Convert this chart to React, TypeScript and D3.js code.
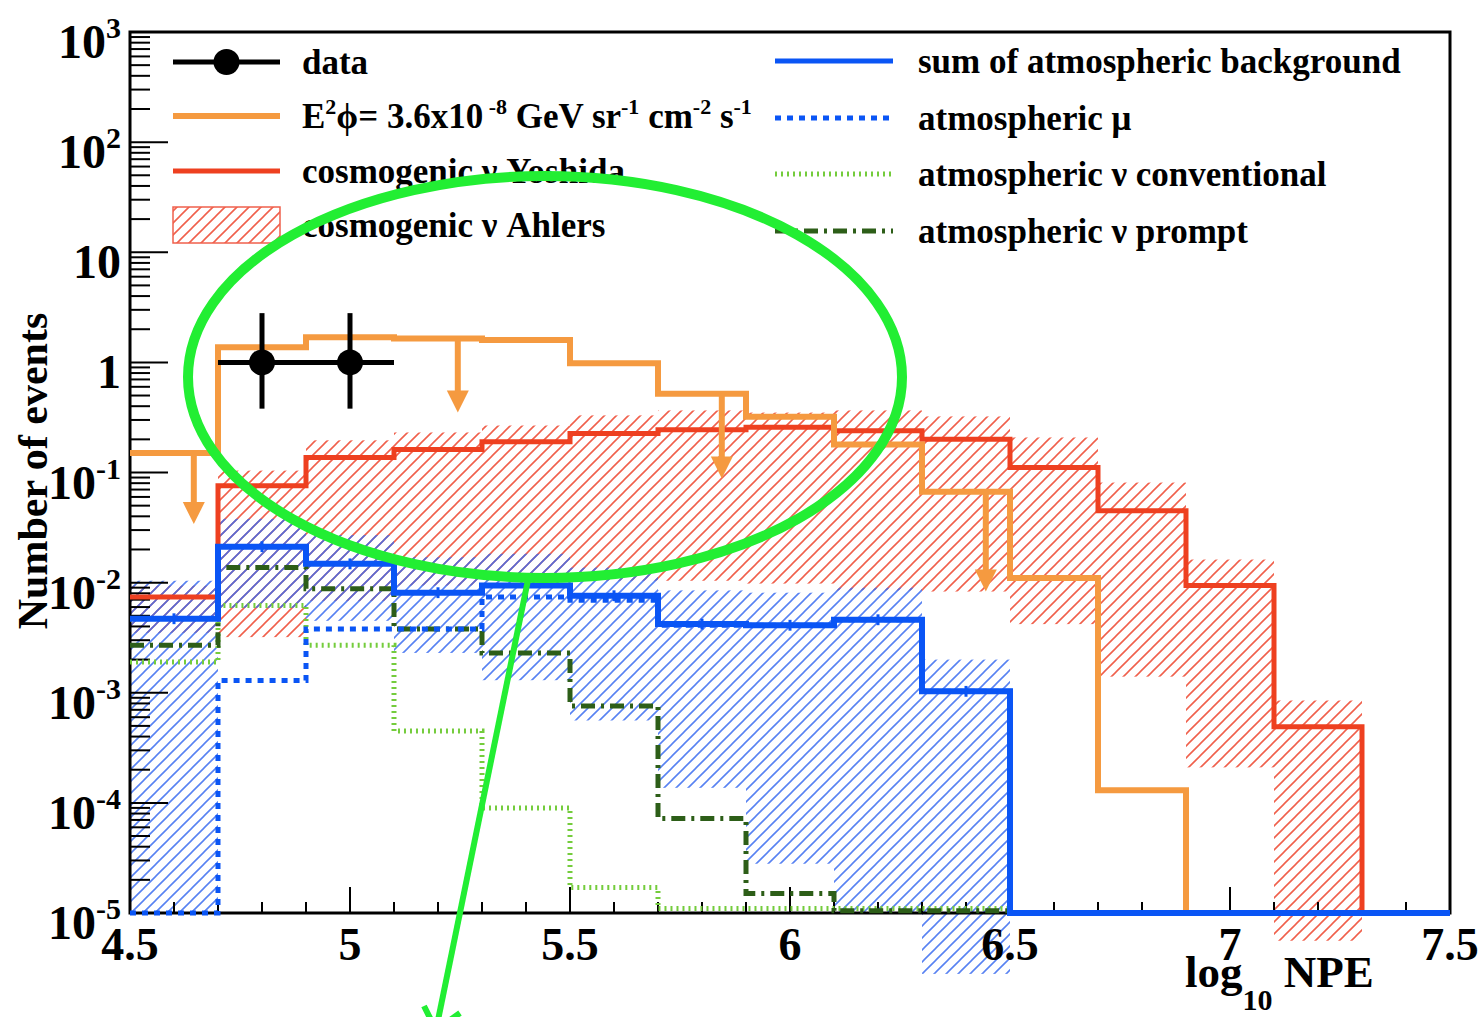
import React from 'react';
import * as d3 from 'd3';

// bin edges in log10 NPE
const edges = [4.5, 4.7, 4.9, 5.1, 5.3, 5.5, 5.7, 5.9, 6.1, 6.3, 6.5, 6.7, 6.9, 7.1, 7.3, 7.5];

// E^2 phi = 3.6e-8 limit (orange)
const limitVals = [0.15, 1.37, 1.69, 1.65, 1.6, 0.98, 0.52, 0.32, 0.18, 0.067, 0.011, 1.3e-4, 0, 0, 0];
const arrowX = [4.645, 5.245, 5.845, 6.445];
const arrowTip = [0.034, 0.35, 0.088, 0.0083];

// cosmogenic nu Yoshida (red line) and Ahlers band (red hatch)
const yoshida = [0.0074, 0.076, 0.137, 0.162, 0.19, 0.226, 0.245, 0.257, 0.24, 0.2, 0.111, 0.045, 0.0094, 4.9e-4, 0];
const ahlersHi = [0.0094, 0.104, 0.196, 0.231, 0.267, 0.33, 0.366, 0.35, 0.366, 0.323, 0.208, 0.081, 0.0162, 8.5e-4, 0];
const ahlersLo = [0.0035, 0.0032, 0.0068, 0.0094, 0.0104, 0.0104, 0.0104, 0.0098, 0.0085, 0.0083, 0.0042, 0.0014, 2.1e-4, 5.6e-6, 0];

// atmospheric background
const bgSum = [0.0047, 0.0212, 0.0148, 0.0081, 0.0094, 0.0076, 0.0042, 0.0041, 0.0046, 0.00103, 0, 0, 0, 0, 0];
const bgHi = [0.0104, 0.038, 0.027, 0.017, 0.0183, 0.0137, 0.0085, 0.0081, 0.009, 0.002, 0, 0, 0, 0, 0];
const bgLo = [1e-5, 0.0059, 0.0045, 0.0023, 0.0013, 5.6e-4, 1.37e-4, 2.8e-5, 1e-5, 2.8e-6, 0, 0, 0, 0, 0];
const atmMu = [0, 0.00129, 0.0038, 0.0038, 0.0074, 0.0069, 0.0041, 0.0041, 0.0046, 0.00103, 0, 0, 0, 0, 0];
const nuConv = [0.0019, 0.0062, 0.0027, 4.5e-4, 9.0e-5, 1.7e-5, 1.1e-5, 1.1e-5, 1.1e-5, 1.1e-5, 0, 0, 0, 0, 0];
const nuPrompt = [0.0027, 0.0137, 0.0088, 0.0038, 0.0023, 7.6e-4, 7.2e-5, 1.5e-5, 1.05e-5, 1.05e-5, 0, 0, 0, 0, 0];

// observed events
const dataX = [4.8, 5.0];
const dataY = [1, 1];
const dataYHi = [2.8, 2.8];
const dataYLo = [0.38, 0.38];
const dataXErr = 0.1;

const xTickLabels = ['4.5', '5', '5.5', '6', '6.5', '7', '7.5'];
const yDecades = [-5, -4, -3, -2, -1, 0, 1, 2, 3];

const FONT = "'Liberation Serif', 'Times New Roman', serif";
const ORANGE = '#f59a40';
const RED = '#ee4020';
const BLUE = '#0a55f5';
const LGREEN = '#74cc3c';
const DGREEN = '#2d5e18';

export default function App() {
  const W = 1480, H = 1017;
  const yMin = 1e-5;
  const x = d3.scaleLinear().domain([4.5, 7.5]).range([130, 1450]);
  const y = d3.scaleLog().domain([yMin, 1e3]).range([913, 32]);

  const stepPath = (vals: number[]) => {
    let d = '';
    vals.forEach((v, i) => {
      const yy = y(Math.max(v, yMin));
      d += i === 0 ? `M${x(edges[0])},${yy}` : `V${yy}`;
      d += `H${x(edges[i + 1])}`;
    });
    return d;
  };

  const band = (hi: number[], lo: number[], fill: string) =>
    hi.map((h, i) => h > 0 ? (
      <rect key={i} x={x(edges[i])} width={x(edges[i + 1]) - x(edges[i])}
        y={y(h)} height={y(lo[i]) - y(h)} fill={fill} />
    ) : null);

  const binOf = (v: number) => edges.findIndex((e, i) => v >= e && v < edges[i + 1]);

  const majorY = yDecades.map(k => Math.pow(10, k));
  const minorY: number[] = [];
  yDecades.slice(0, -1).forEach(k => d3.range(2, 10).forEach(m => minorY.push(m * Math.pow(10, k))));
  const majorX = d3.range(0, 7).map(i => 4.5 + i * 0.5);
  const minorX = d3.range(0, 31).map(i => 4.5 + i * 0.1);

  const yLabel = (k: number) => {
    if (k === 0) return <tspan>1</tspan>;
    if (k === 1) return <tspan>10</tspan>;
    return [<tspan key="b">10</tspan>, <tspan key="e" fontSize={30} dy={-20}>{k < 0 ? '-' + (-k) : k}</tspan>];
  };

  const legL = 173, legLEnd = 280, legLText = 302;
  const legR = 775, legREnd = 893, legRText = 918;
  const rowL = [62, 116, 171, 225];
  const rowR = [61, 118, 174, 231];

  return (
    <svg width={W} height={H} style={{ position: 'absolute', left: 0, top: 0, background: '#fff' }}
      fontFamily={FONT} fontWeight="bold">
      <defs>
        <pattern id="hatchRed" patternUnits="userSpaceOnUse" width="12" height="12">
          <path d="M-3,3 l6,-6 M0,12 l12,-12 M9,15 l6,-6" stroke="#f0604c" strokeWidth="1.6" />
        </pattern>
        <pattern id="hatchBlue" patternUnits="userSpaceOnUse" width="12" height="12">
          <path d="M-3,3 l6,-6 M0,12 l12,-12 M9,15 l6,-6" stroke="#3a6cf0" strokeWidth="1.6" opacity="0.85" />
        </pattern>
        <clipPath id="frameClip">
          <rect x={128} y={32} width={1324} height={886} />
        </clipPath>
      </defs>
      <rect width={W} height={H} fill="#fff" />

      {/* uncertainty bands */}
      <g>{band(ahlersHi, ahlersLo, 'url(#hatchRed)')}</g>
      <g>{band(bgHi, bgLo, 'url(#hatchBlue)')}</g>

      {/* frame */}
      <rect x={130} y={32} width={1320} height={881} fill="none" stroke="#000" strokeWidth={3} />
      <g stroke="#000" strokeWidth={2}>
        {majorY.map((v, i) => <line key={'ym' + i} x1={130} x2={168} y1={y(v)} y2={y(v)} />)}
        {minorY.map((v, i) => <line key={'yn' + i} x1={130} x2={150} y1={y(v)} y2={y(v)} />)}
        {majorX.map((v, i) => <line key={'xm' + i} x1={x(v)} x2={x(v)} y1={913} y2={887} />)}
        {minorX.map((v, i) => <line key={'xn' + i} x1={x(v)} x2={x(v)} y1={913} y2={902} />)}
      </g>

      {/* background components */}
      <g fill="none" clipPath="url(#frameClip)">
        <path d={stepPath(nuConv)} stroke={LGREEN} strokeWidth={5} strokeDasharray="2 4" />
        <path d={stepPath(nuPrompt)} stroke={DGREEN} strokeWidth={5} strokeDasharray="14 6 3 6" />
        <path d={stepPath(atmMu)} stroke={BLUE} strokeWidth={5} strokeDasharray="6 6" />
        <path d={stepPath(yoshida)} stroke={RED} strokeWidth={5} />
        <path d={stepPath(limitVals)} stroke={ORANGE} strokeWidth={6} />
        <path d={stepPath(bgSum)} stroke={BLUE} strokeWidth={6} />
      </g>
      <g stroke={BLUE} strokeWidth={3}>
        {bgSum.map((v, i) => v > 0 ? (
          <line key={i} x1={x((edges[i] + edges[i + 1]) / 2)} x2={x((edges[i] + edges[i + 1]) / 2)}
            y1={y(v * 1.12)} y2={y(v / 1.12)} />
        ) : null)}
      </g>

      {/* upper-limit arrows */}
      {arrowX.map((ax, i) => {
        const top = y(limitVals[binOf(ax)]);
        const tip = y(arrowTip[i]);
        const cx = x(ax);
        return (
          <g key={i}>
            <line x1={cx} x2={cx} y1={top} y2={tip - 18} stroke={ORANGE} strokeWidth={6} />
            <path d={`M${cx - 11},${tip - 22} L${cx + 11},${tip - 22} L${cx},${tip} Z`} fill={ORANGE} />
          </g>
        );
      })}

      {/* data */}
      <g stroke="#000" strokeWidth={5}>
        {dataX.map((dx, i) => (
          <g key={i}>
            <line x1={x(dx - dataXErr)} x2={x(dx + dataXErr)} y1={y(dataY[i])} y2={y(dataY[i])} />
            <line x1={x(dx)} x2={x(dx)} y1={y(dataYHi[i])} y2={y(dataYLo[i])} />
            <circle cx={x(dx)} cy={y(dataY[i])} r={13} fill="#000" stroke="none" />
          </g>
        ))}
      </g>

      {/* axis labels */}
      <g fontSize={48} textAnchor="end">
        {yDecades.map(k => (
          <text key={k} x={121} y={y(Math.pow(10, k)) + 26}>{yLabel(k)}</text>
        ))}
      </g>
      <g fontSize={46} textAnchor="middle">
        {majorX.map((v, i) => <text key={i} x={x(v)} y={960}>{xTickLabels[i]}</text>)}
      </g>
      <text fontSize={45} x={1185} y={987}>log<tspan fontSize={30} dy={23}>10</tspan><tspan dy={-23}> NPE</tspan></text>
      <text fontSize={42} textAnchor="middle" transform="translate(47,471) rotate(-90)">Number of events</text>

      {/* legend */}
      <g fontSize={35}>
        <line x1={legL} x2={legLEnd} y1={rowL[0]} y2={rowL[0]} stroke="#000" strokeWidth={5} />
        <circle cx={(legL + legLEnd) / 2} cy={rowL[0]} r={13} fill="#000" />
        <text x={legLText} y={rowL[0] + 12}>data</text>

        <line x1={legL} x2={legLEnd} y1={rowL[1]} y2={rowL[1]} stroke={ORANGE} strokeWidth={6} />
        <text x={legLText} y={rowL[1] + 12}>
          E<tspan fontSize={22} dy={-14}>2</tspan><tspan dy={14}>ϕ= 3.6x10</tspan>
          <tspan fontSize={22} dy={-14}> -8</tspan><tspan dy={14}> GeV sr</tspan>
          <tspan fontSize={22} dy={-14}>-1</tspan><tspan dy={14}> cm</tspan>
          <tspan fontSize={22} dy={-14}>-2</tspan><tspan dy={14}> s</tspan>
          <tspan fontSize={22} dy={-14}>-1</tspan>
        </text>

        <line x1={legL} x2={legLEnd} y1={rowL[2]} y2={rowL[2]} stroke={RED} strokeWidth={5} />
        <text x={legLText} y={rowL[2] + 12}>cosmogenic ν Yoshida</text>

        <rect x={legL} y={rowL[3] - 18} width={legLEnd - legL} height={36} fill="url(#hatchRed)" stroke="#f0604c" strokeWidth={1.5} />
        <text x={legLText} y={rowL[3] + 12}>cosmogenic ν Ahlers</text>

        <line x1={legR} x2={legREnd} y1={rowR[0]} y2={rowR[0]} stroke={BLUE} strokeWidth={5} />
        <text x={legRText} y={rowR[0] + 12}>sum of atmospheric background</text>
        <line x1={legR} x2={legREnd} y1={rowR[1]} y2={rowR[1]} stroke={BLUE} strokeWidth={5} strokeDasharray="6 6" />
        <text x={legRText} y={rowR[1] + 12}>atmospheric μ</text>
        <line x1={legR} x2={legREnd} y1={rowR[2]} y2={rowR[2]} stroke={LGREEN} strokeWidth={5} strokeDasharray="2 4" />
        <text x={legRText} y={rowR[2] + 12}>atmospheric ν conventional</text>
        <line x1={legR} x2={legREnd} y1={rowR[3]} y2={rowR[3]} stroke={DGREEN} strokeWidth={5} strokeDasharray="14 6 3 6" />
        <text x={legRText} y={rowR[3] + 12}>atmospheric ν prompt</text>
      </g>

      {/* highlight annotation */}
      <g stroke="#22ee33" fill="none">
        <ellipse cx={545} cy={377} rx={357} ry={201} strokeWidth={10} />
        <line x1={528} y1={580} x2={436} y2={1030} strokeWidth={6} />
        <path d="M424,1006 L436,1030 L460,1013" strokeWidth={6} />
      </g>
    </svg>
  );
}
